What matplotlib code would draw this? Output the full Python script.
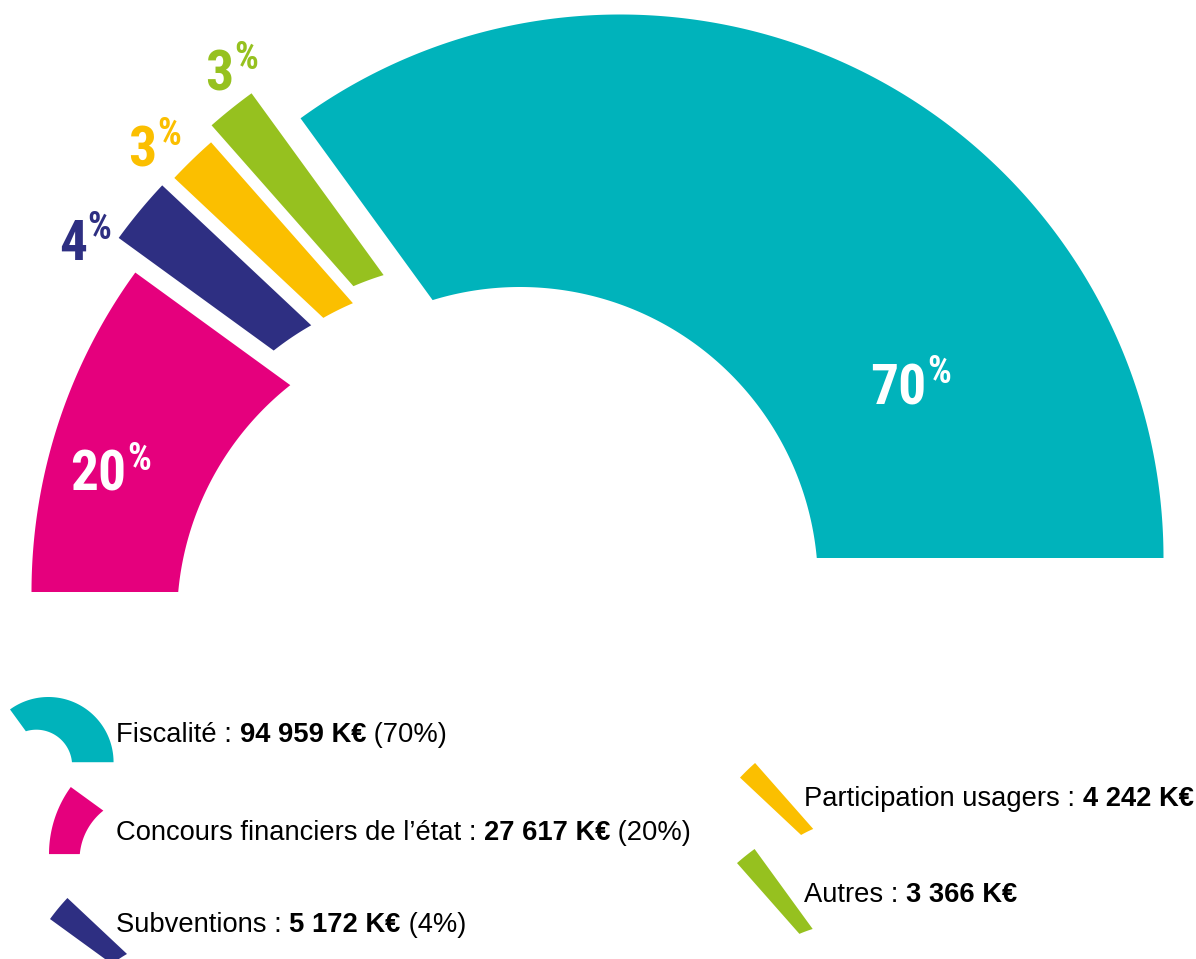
import numpy as np
import matplotlib
matplotlib.use("Agg")
import matplotlib.pyplot as plt
from matplotlib.patches import Polygon
from matplotlib import font_manager

# ---------------- data ----------------
categories = ["Fiscalité", "Concours financiers de l’état", "Subventions",
              "Participation usagers", "Autres"]
amount_labels = ["94 959", "27 617", "5 172", "4 242", "3 366"]   # K€
amount_values = [94959, 27617, 5172, 4242, 3366]                 # K€
percents = [70, 20, 4, 3, 3]
show_pct_in_legend = [True, True, True, False, False]
colors = ["#00B3BB", "#E5007D", "#2E2F82", "#FBBF00", "#96C11F"]
arc_order = [0, 4, 3, 2, 1]   # counter-clockwise from the right

# ---------------- fonts ----------------
names = {f.name for f in font_manager.fontManager.ttflist}
SANS = "Liberation Sans" if "Liberation Sans" in names else "DejaVu Sans"
COND = SANS
for cand in ["Liberation Sans Narrow", "Roboto Condensed", "Open Sans Condensed",
             "DejaVu Sans Condensed", "Noto Sans Condensed", "Arial Narrow"]:
    if cand in names:
        COND = cand
        break
narrow = COND != SANS

# ---------------- geometry (pixel space) ----------------
W, H = 1196, 959
O = np.array([620.0, 558.0]); R_OUT = 543.5     # outer circle
I = np.array([520.0, 585.0]); R_IN = 298.0      # inner (offset) circle
explode = {0: (0, 0), 4: (-49, -25), 3: (-49.5, -8), 2: (-61.6, -0.6), 1: (-45, 34)}
# percentage label placement (angle deg, radius) about each slice centre
label_polar = {0: (26.7, 342.6), 1: (167.3, 460.2), 2: (147.8, 557.4),
               3: (137.2, 564.7), 4: (127.35, 557.2)}
label_color = {0: "white", 1: "white", 2: colors[2], 3: colors[3], 4: colors[4]}
NUM_FS = 40 if narrow else 36
PCT_FS = 27 if narrow else 21


def inner_hit(t):
    d = np.array([np.cos(np.radians(t)), -np.sin(np.radians(t))])
    w = O - I
    b = 2 * np.dot(w, d)
    c = np.dot(w, w) - R_IN ** 2
    s = (-b + np.sqrt(b * b - 4 * c)) / 2
    return O + s * d


def ring_slice(t1, t2):
    a = np.radians(np.linspace(t1, t2, 240))
    outer = np.column_stack([O[0] + R_OUT * np.cos(a), O[1] - R_OUT * np.sin(a)])
    p1, p2 = inner_hit(t1), inner_hit(t2)
    b1 = np.degrees(np.arctan2(-(p1[1] - I[1]), p1[0] - I[0]))
    b2 = np.degrees(np.arctan2(-(p2[1] - I[1]), p2[0] - I[0]))
    bb = np.radians(np.linspace(b2, b1, 240))
    inner = np.column_stack([I[0] + R_IN * np.cos(bb), I[1] - R_IN * np.sin(bb)])
    return np.vstack([outer, inner])


fig = plt.figure(figsize=(W / 100, H / 100), dpi=100)
ax = fig.add_axes([0, 0, 1, 1])
ax.set_xlim(0, W)
ax.set_ylim(H, 0)
ax.axis("off")

total = float(sum(percents))
angle = 0.0
slices = {}
for k in arc_order:
    span = 180.0 * percents[k] / total
    poly = ring_slice(angle, angle + span)
    slices[k] = poly
    off = np.array(explode[k])
    ax.add_patch(Polygon(poly + off, closed=True, facecolor=colors[k],
                         edgecolor="none"))
    # percentage label
    la, lr = label_polar[k]
    cx, cy = O + off
    ax_x = cx + lr * np.cos(np.radians(la))
    ax_y = cy - lr * np.sin(np.radians(la))
    ax.text(ax_x, ax_y, f"{percents[k]}", ha="right", va="baseline",
            fontsize=NUM_FS, fontweight="bold", family=COND, color=label_color[k])
    ax.text(ax_x + 1, ax_y - 21, "%", ha="left", va="baseline",
            fontsize=PCT_FS, fontweight="bold", family=COND, color=label_color[k])
    angle += span

# ---------------- legend ----------------
fig.canvas.draw()
rend = fig.canvas.get_renderer()


def run_width(s, fs, weight, fam):
    t1 = ax.text(0, 0, "a" + s + "a", fontsize=fs, fontweight=weight, family=fam)
    t2 = ax.text(0, 0, "aa", fontsize=fs, fontweight=weight, family=fam)
    w = t1.get_window_extent(rend).width - t2.get_window_extent(rend).width
    t1.remove(); t2.remove()
    return w


def draw_runs(x, y, runs, fs, fam):
    for s, weight in runs:
        ax.text(x, y, s, ha="left", va="baseline", fontsize=fs,
                fontweight=weight, family=fam, color="black")
        x += run_width(s, fs, weight, fam)


# icon placement: (left, top, scale) ; text start (x, baseline)
icon_place = {0: (10, 697, 0.12), 1: (49, 787, 0.21), 2: (50, 898, 0.40),
              3: (740, 763, 0.41), 4: (737, 849, 0.44)}
text_place = {0: (116, 742), 1: (116, 840), 2: (116, 932),
              3: (804, 806), 4: (804, 902)}
FS = 19.7
for k in range(len(categories)):
    poly = slices[k]
    lx, ty, sc = icon_place[k]
    p = (poly - poly.min(axis=0)) * sc + np.array([lx, ty])
    ax.add_patch(Polygon(p, closed=True, facecolor=colors[k], edgecolor="none"))
    runs = [(categories[k] + " : ", "normal"), (amount_labels[k] + " K€", "bold")]
    if show_pct_in_legend[k]:
        runs.append((f" ({percents[k]}%)", "normal"))
    tx, tb = text_place[k]
    draw_runs(tx, tb, runs, FS, SANS)

fig.savefig("out.png", dpi=100, facecolor="white")
